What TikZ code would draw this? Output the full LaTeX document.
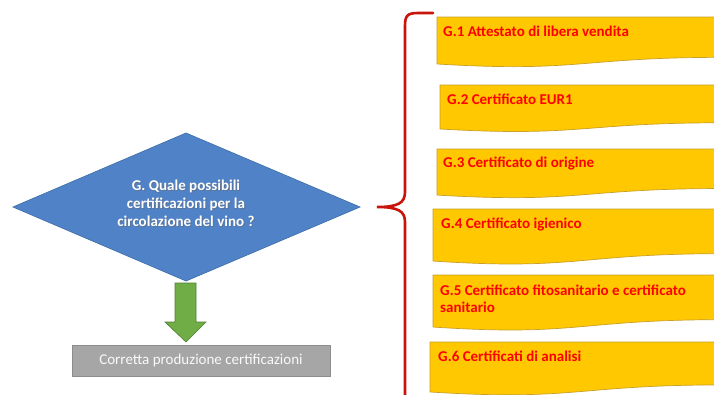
\documentclass[tikz,border=0pt]{standalone}
\usepackage{fontspec}
\setmainfont{Carlito}
\definecolor{diablue}{RGB}{80,130,200}
\definecolor{diaedge}{RGB}{65,113,170}
\definecolor{arrgreen}{RGB}{112,173,71}
\definecolor{arredge}{RGB}{80,126,50}
\definecolor{docyel}{RGB}{255,200,0}
\definecolor{docedge}{RGB}{200,160,40}
\definecolor{txtred}{RGB}{255,0,0}
\definecolor{bracered}{RGB}{200,20,10}
\definecolor{boxgray}{RGB}{166,166,166}
\definecolor{boxedge}{RGB}{140,140,140}
\newcommand{\docbox}[3]{%
 \pgfmathsetmacro\dbA{#2+0.802*#3}%
 \pgfmathsetmacro\dbB{#2+1.107*#3}%
 \pgfmathsetmacro\dbC{#2+0.934*#3}%
 \pgfmathsetmacro\dbM{(#1+722)/2}%
 \path[docstyle] (#1,#2) -- (722,#2) -- (722,\dbA) .. controls (\dbM,\dbA) and (\dbM,\dbB) .. (#1,\dbC) -- cycle;}
\tikzset{
 docstyle/.style={fill=docyel, draw=docedge, line width=0.7pt},
 doctext/.style={anchor=west, text=txtred, font=\fontsize{15}{17}\selectfont\bfseries, inner sep=0pt, align=left},
 diastyle/.style={fill=diablue, draw=diaedge, line width=0.7pt},
 diatext/.style={text=white, font=\fontsize{15}{18}\selectfont\bfseries, align=center, inner sep=0pt},
 arrstyle/.style={fill=arrgreen, draw=arredge, line width=0.6pt},
 outbox/.style={fill=boxgray, draw=boxedge, line width=0.6pt, text=white!95!gray, font=\fontsize{15}{17}\selectfont, minimum width=258pt, minimum height=31pt, inner sep=0pt},
 bracestyle/.style={draw=bracered, line width=2.6pt, line cap=round}
}
\begin{document}
\begin{tikzpicture}[x=1pt,y=-1pt]
\useasboundingbox (0,0) rectangle (714,394);
\clip (0,0) rectangle (714,394);
\fill[white] (0,0) rectangle (714,394);
% diamond
\path[diastyle] (186,133) -- (360,207) -- (186,281) -- (13,207) -- cycle;
\node[diatext, text=black!60, opacity=0.5] at (187,204) {G. Quale possibili\\certificazioni per la\\circolazione del vino ?};
\node[diatext] (q) at (186,203) {G. Quale possibili\\certificazioni per la\\circolazione del vino ?};
% arrow
\path[arrstyle] (175,283) -- (196,283) -- (196,322) -- (206,322) -- (186,342) -- (165,322) -- (175,322) -- cycle;
% output box
\node[outbox] (out) at (201,360.5) {Corretta produzione certificazioni};
% brace
\coordinate (bt) at (433,13);
\coordinate (bm) at (377,207);
\coordinate (bb) at (405,400);
\draw[bracestyle] (bt) -- (418,13) .. controls (407,13) and (405,16) .. (405,26) -- (405,192) .. controls (405,203) and (398,207) .. (bm) .. controls (398,207) and (405,211) .. (405,222) -- (bb);
% documents
\docbox{437}{17}{50.3}
\docbox{440}{85}{47.1}
\docbox{437}{149}{49.3}
\docbox{433}{209}{55.7}
\docbox{433}{275}{55.7}
\docbox{430}{342}{53.5}
\node[doctext] (g1) at (443,31) {G.1 Attestato di libera vendita};
\node[doctext] (g2) at (447,99) {G.2 Certificato EUR1};
\node[doctext] (g3) at (443,163) {G.3 Certificato di origine};
\node[doctext] (g4) at (441,224) {G.4 Certificato igienico};
\node[doctext] (g5) at (440,298.5) {G.5 Certificato fitosanitario e certificato\\sanitario};
\node[doctext] (g6) at (438,356) {G.6 Certificati di analisi};
\end{tikzpicture}
\end{document}
